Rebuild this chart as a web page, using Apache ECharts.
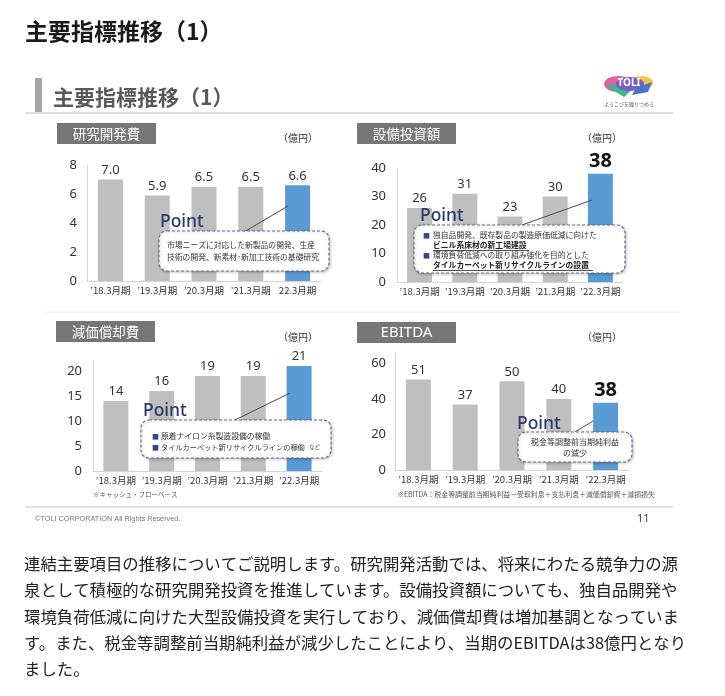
<!DOCTYPE html>
<html>
<head>
<meta charset="utf-8">
<script src="https://cdn.jsdelivr.net/npm/echarts@6/dist/echarts.min.js"></script>
<style>
html,body{margin:0;padding:0;background:#fff;}
#main{width:725px;height:696px;}
</style>
</head>
<body>
<div id="main"></div>
<script>
// ---- data ----
const categoriesRD = ["’18.3月期","’19.3月期","’20.3月期","’21.3月期","22.3月期"];
const categories = ["’18.3月期","’19.3月期","’20.3月期","’21.3月期","’22.3月期"];
const rdValues = [7.0, 5.9, 6.5, 6.5, 6.6];
const capexValues = [26, 31, 23, 30, 38];
const depreciationValues = [14, 16, 19, 19, 21];
const ebitdaValues = [51, 37, 50, 40, 38];
const rdTicks = [0, 2, 4, 6, 8];
const capexTicks = [0, 10, 20, 30, 40];
const depTicks = [0, 5, 10, 15, 20];
const ebitdaTicks = [0, 20, 40, 60];
const panelTitles = ["研究開発費", "設備投資額", "減価償却費", "EBITDA"];

const GRAY = '#bfbfbf';
const BLUE = '#5b9bd5';
const JP = '"Noto Sans CJK JP", "Noto Sans", sans-serif';
const LAT = '"Noto Sans", "Noto Sans CJK JP", sans-serif';

const chart = echarts.init(document.getElementById('main'), null, {renderer: 'canvas'});

const grids = [
  {left: 87, top: 165, width: 234, height: 116},
  {left: 397, top: 168, width: 226, height: 114},
  {left: 93, top: 361, width: 229, height: 110},
  {left: 395, top: 353, width: 234, height: 117}
];
const yCfg = [
  {ticks: rdTicks, max: 8, margin: 10},
  {ticks: capexTicks, max: 40, margin: 11},
  {ticks: depTicks, max: 22, margin: 11},
  {ticks: ebitdaTicks, max: 66, margin: 9}
];
const catSets = [categoriesRD, categories, categories, categories];
const valueSets = [rdValues, capexValues, depreciationValues, ebitdaValues];
const boldLast = [false, true, false, true];

const xAxes = catSets.map((c, i) => ({
  gridIndex: i, type: 'category', data: c,
  axisLine: {show: true, lineStyle: {color: '#d4d4d4', width: 1}},
  axisTick: {show: false},
  axisLabel: {interval: 0, margin: 5, color: '#333', fontSize: 9.5, fontFamily: JP}
}));
const yAxes = yCfg.map((y, i) => ({
  gridIndex: i, type: 'value', min: 0, max: y.max,
  interval: y.ticks[1] - y.ticks[0],
  axisLine: {show: true, lineStyle: {color: '#d4d4d4', width: 1}},
  axisTick: {show: false},
  splitLine: {show: false},
  axisLabel: {
    margin: y.margin, color: '#333', fontSize: 13, fontFamily: LAT,
    showMaxLabel: y.ticks.indexOf(y.max) >= 0,
    formatter: v => (y.ticks.indexOf(v) >= 0 ? String(v) : '')
  }
}));
const series = valueSets.map((vals, i) => ({
  type: 'bar', xAxisIndex: i, yAxisIndex: i, barWidth: 25,
  data: vals.map((v, j) => {
    const item = {value: v, itemStyle: {color: j === vals.length - 1 ? BLUE : GRAY}};
    if (j === vals.length - 1 && boldLast[i]) {
      item.label = {fontSize: 20, fontWeight: 'bold', color: '#111', distance: 2};
    }
    return item;
  }),
  label: {
    show: true, position: 'top', distance: 3, color: '#333', fontSize: 13, fontFamily: LAT,
    formatter: p => (i === 0 ? Number(p.value).toFixed(1) : String(p.value))
  },
  z: 2
}));

// ---- decoration ----
const g = [];
function txt(x, y, text, size, opts) {
  opts = opts || {};
  g.push({type: 'text', z: opts.z || 50, style: {
    x: x, y: y, text: text, fontSize: size, fontFamily: opts.family || JP,
    fontWeight: opts.weight || 'normal', fill: opts.fill || '#333',
    textAlign: opts.align || 'left', textVerticalAlign: 'middle'
  }});
}
function rect(x, y, w, h, fill, opts) {
  opts = opts || {};
  g.push({type: 'rect', z: opts.z || 40, shape: {x: x, y: y, width: w, height: h, r: opts.r || 0},
    style: Object.assign({fill: fill}, opts.style || {})});
}
function line(x1, y1, x2, y2, color, width, z, dash) {
  g.push({type: 'line', z: z || 40, shape: {x1: x1, y1: y1, x2: x2, y2: y2},
    style: {stroke: color, lineWidth: width || 1, lineDash: dash || null}});
}

// page title
txt(25, 31, '主要指標推移（1）', 23, {weight: 'bold', fill: '#1a1a1a'});
// slide header
rect(35, 78, 7, 34, '#a6a6a6');
txt(53, 97, '主要指標推移（1）', 21, {weight: 'bold', fill: '#595959'});
line(25, 113, 673, 113, '#bdbdbd', 1.2);
// slide footer
line(45, 312, 680, 312, '#f0f0f0', 1);
line(25, 507, 673, 507, '#c8c8c8', 1.2);
txt(35, 519, '©TOLI CORPORATION All Rights Reserved.', 7.3, {family: '"Liberation Sans", Arial, sans-serif', fill: '#777'});
txt(637, 519, '11', 11, {family: LAT, fill: '#444'});

// logo
g.push({type: 'group', z: 45, children: [
  {type: 'ellipse', shape: {cx: 618, cy: 84, rx: 14, ry: 8}, style: {fill: '#e2609f'}},
  {type: 'ellipse', shape: {cx: 642, cy: 83, rx: 11, ry: 7}, style: {fill: '#f2c744'}},
  {type: 'polygon', shape: {points: [[606, 86], [624, 97], [634, 88], [616, 84]]}, style: {fill: '#3fb58f'}},
  {type: 'ellipse', shape: {cx: 630, cy: 84, rx: 14, ry: 7}, style: {fill: '#7c5cc7'}},
  {type: 'polygon', shape: {points: [[636, 88], [652, 82], [648, 92], [632, 95]]}, style: {fill: '#4a74c9'}}
]});
txt(629, 83, 'TOLI', 10, {weight: 'bold', fill: '#fff', align: 'center', family: LAT, z: 46});
txt(629, 104, 'よろこびを織りつめる', 5, {fill: '#666', align: 'center'});

// panel labels and units
const panelPos = [[57, 123], [357, 123], [56, 321], [357, 322]];
const unitPos = [[278, 138], [582, 138], [278, 337], [582, 337]];
panelPos.forEach((p, i) => {
  rect(p[0], p[1], 99, 21, '#767676');
  txt(p[0] + 49.5, p[1] + 10.5, panelTitles[i], i === 3 ? 15 : 13.5,
    {fill: '#fff', align: 'center', family: i === 3 ? LAT : JP});
});
unitPos.forEach(p => txt(p[0], p[1], '（億円）', 10, {fill: '#333'}));

// notes
txt(93, 495, '※キャッシュ・フローベース', 6.5, {fill: '#555'});
txt(397, 494, '※EBITDA：税金等調整前当期純利益－受取利息＋支払利息＋減価償却費＋減損損失', 6.9, {fill: '#555'});

// callouts
const NAVY = '#2b3a6b';
function callout(box, pointXY, lead) {
  line(lead[0], lead[1], lead[2], lead[3], '#4a4a4a', 1, 60);
  g.push({type: 'rect', z: 61, shape: {x: box[0], y: box[1], width: box[2], height: box[3], r: 8},
    style: {fill: '#fff', stroke: '#65718d', lineWidth: 1.2, lineDash: [3, 2],
      shadowBlur: 3, shadowOffsetX: 1, shadowOffsetY: 1, shadowColor: 'rgba(0,0,0,0.25)'}});
  txt(pointXY[0], pointXY[1], 'Point', 17.5, {family: LAT, weight: 500, fill: NAVY, z: 62});
}
// R&D
callout([159, 231, 170, 40], [160, 222], [244, 232, 288, 206]);
txt(167, 245, '市場ニーズに対応した新製品の開発、生産', 7.8, {z: 63});
txt(167, 257, '技術の開発、新素材･新加工技術の基礎研究', 7.8, {z: 63});
// Capex
callout([414, 225, 211, 48], [420, 216], [522, 225, 592, 200]);
txt(423, 235, '■', 7, {fill: '#2f4a8a', z: 63});
txt(433, 235, '独自品開発、既存製品の製造原価低減に向けた', 7.8, {z: 63});
txt(433, 245, 'ビニル系床材の新工場建設', 7.8, {z: 63, weight: 'bold', fill: '#222'});
line(433, 250.5, 529, 250.5, '#222', 0.8, 63);
txt(423, 255, '■', 7, {fill: '#2f4a8a', z: 63});
txt(433, 255, '環境負荷低減への取り組み強化を目的とした', 7.8, {z: 63});
txt(433, 265, 'タイルカーペット新リサイクルラインの設置', 7.8, {z: 63, weight: 'bold', fill: '#222'});
line(433, 270.5, 593, 270.5, '#222', 0.8, 63);
// Depreciation
callout([141, 420, 190, 38], [143, 411], [235, 420, 290, 393]);
txt(152, 436, '■', 7, {fill: '#2f4a8a', z: 63});
txt(161, 436, '原着ナイロン糸製造設備の稼働', 7.8, {z: 63});
txt(152, 447, '■', 7, {fill: '#2f4a8a', z: 63});
txt(161, 447, 'タイルカーペット新リサイクルラインの稼働', 7.2, {z: 63});
txt(309, 447, 'など', 5.5, {z: 63, fill: '#555'});
// EBITDA
callout([518, 432, 114, 30], [517, 424], [575, 432, 593, 421]);
txt(575, 442, '税金等調整前当期純利益', 8, {z: 63, align: 'center'});
txt(575, 453, 'の減少', 8, {z: 63, align: 'center'});

// paragraph
const paragraph = [
  '連結主要項目の推移についてご説明します。研究開発活動では、将来にわたる競争力の源',
  '泉として積極的な研究開発投資を推進しています。設備投資額についても、独自品開発や',
  '環境負荷低減に向けた大型設備投資を実行しており、減価償却費は増加基調となっていま',
  'す。また、税金等調整前当期純利益が減少したことにより、当期のEBITDAは38億円となり',
  'ました。'
];
paragraph.forEach((l, i) => txt(24, 564 + i * 26.2, l, 16.4, {fill: '#222'}));

chart.setOption({
  animation: false,
  backgroundColor: '#fff',
  grid: grids,
  xAxis: xAxes,
  yAxis: yAxes,
  series: series,
  graphic: g
});
</script>
</body>
</html>
